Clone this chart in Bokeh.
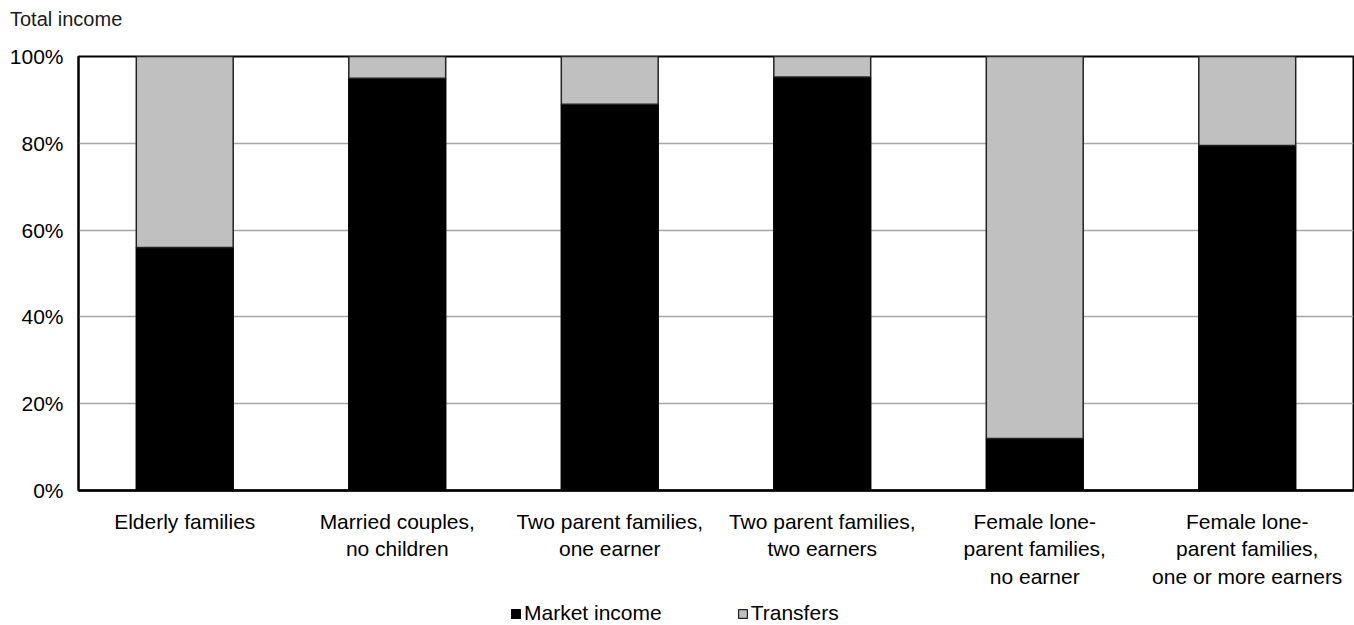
from bokeh.plotting import figure
from bokeh.layouts import column
from bokeh.models import FactorRange, Range1d, FixedTicker, Legend, LegendItem, ColumnDataSource, Div
from bokeh.embed import file_html
from bokeh.resources import INLINE

categories = [
    "Elderly families",
    "Married couples,\nno children",
    "Two parent families,\none earner",
    "Two parent families,\ntwo earners",
    "Female lone-\nparent families,\nno earner",
    "Female lone-\nparent families,\none or more earners",
]
market_income = [56, 95, 89, 95.3, 12, 79.5]
transfers = [100 - v for v in market_income]
y_ticks = [0, 20, 40, 60, 80, 100]
y_tick_labels = ["0%", "20%", "40%", "60%", "80%", "100%"]
series_names = ["Market income", "Transfers"]
series_colors = ["#000000", "#c0c0c0"]
series_lines = ["#000000", "#222222"]
y_title = "Total income"

FONT = "Liberation Sans"
FS = "21px"

src = ColumnDataSource(dict(cat=categories, market=market_income, transfers=transfers))

head = Div(text=y_title, width=1354, height=37, margin=(0, 0, 0, 0),
           styles={"font-family": FONT, "font-size": "20px", "color": "#1a1a1a",
                   "padding-left": "10px", "padding-top": "8px", "line-height": "23px"})

p = figure(
    width=1354, height=561,
    x_range=FactorRange(*categories, range_padding=0),
    y_range=Range1d(0, 100),
    output_backend="svg", toolbar_location=None,
)
p.min_border_left = 78
p.min_border_right = 1
p.min_border_top = 19
p.min_border_bottom = 108

r = p.vbar_stack(["market", "transfers"], x="cat", width=0.456, source=src,
                 color=series_colors, line_color=series_lines, line_width=1.5)

p.outline_line_color = "#000000"
p.outline_line_width = 2
p.xgrid.grid_line_color = None
p.ygrid.ticker = FixedTicker(ticks=[20, 40, 60, 80])
p.ygrid.grid_line_color = "#a6a6a6"
p.ygrid.grid_line_width = 1.5

p.yaxis.ticker = FixedTicker(ticks=y_ticks)
p.yaxis.major_label_overrides = {t: l for t, l in zip(y_ticks, y_tick_labels)}
p.yaxis.major_tick_line_color = None
p.yaxis.minor_tick_line_color = None
p.yaxis.major_tick_out = 0
p.yaxis.major_tick_in = 0
p.yaxis.axis_line_color = "#000000"
p.yaxis.axis_line_width = 2
p.yaxis.major_label_text_font = FONT
p.yaxis.major_label_text_font_size = FS
p.yaxis.major_label_text_color = "#000000"
p.yaxis.major_label_standoff = 15

p.xaxis.major_tick_line_color = None
p.xaxis.major_tick_out = 0
p.xaxis.major_tick_in = 0
p.xaxis.axis_line_color = "#000000"
p.xaxis.axis_line_width = 2.5
p.xaxis.major_label_text_font = FONT
p.xaxis.major_label_text_font_size = FS
p.xaxis.major_label_text_color = "#000000"
p.xaxis.major_label_text_line_height = 1.2
p.xaxis.major_label_standoff = 19

# legend strip below the chart (its bars lie outside the visible y range)
lg = figure(width=1354, height=27,
            x_range=FactorRange(*categories, range_padding=0), y_range=Range1d(500, 501),
            x_axis_location=None, y_axis_location=None,
            output_backend="svg", toolbar_location=None)
lg.min_border_left = 0
lg.min_border_right = 0
lg.min_border_top = 0
lg.min_border_bottom = 0
lg.grid.grid_line_color = None
lg.outline_line_color = None
lr = lg.vbar_stack(["market", "transfers"], x="cat", width=0.456, source=src,
                   color=series_colors, line_color=series_lines, line_width=1.2)
legend = Legend(items=[LegendItem(label=n, renderers=[rr]) for n, rr in zip(series_names, lr)],
                orientation="horizontal", location=(432, 0))
legend.label_text_font = FONT
legend.label_text_font_size = FS
legend.label_text_color = "#000000"
legend.glyph_width = 11
legend.glyph_height = 11
legend.label_standoff = 3
legend.spacing = 75
legend.border_line_color = None
legend.background_fill_alpha = 0
legend.padding = 0
legend.margin = 0
lg.add_layout(legend, "center")

layout = column(head, p, lg, spacing=0)
open("out.html", "w").write(file_html(layout, INLINE))
